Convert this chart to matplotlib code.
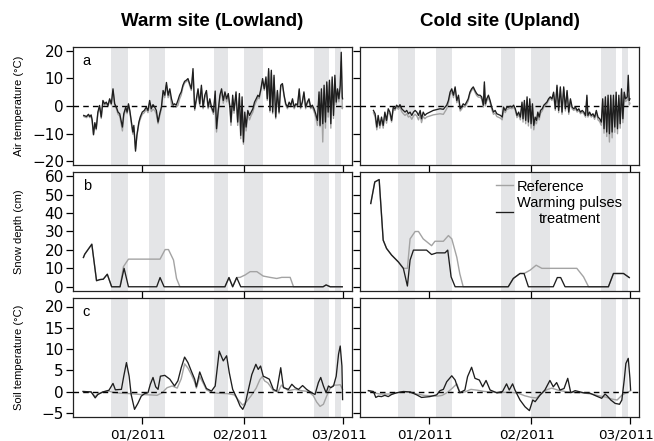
import matplotlib
matplotlib.use('Agg')
import matplotlib.pyplot as plt
from matplotlib.transforms import ScaledTranslation

plt.rcParams['font.family'] = ['Liberation Sans', 'DejaVu Sans']

# ---------------- DATA (day 0 = 1 Jan 2011) ----------------
warm_air_day = [
-17.8,-17.0,-16.4,-16.0,-15.6,-15.3,-14.9,-14.5,-14.1,-13.6,
-13.1,-12.6,-12.1,-11.6,-11.1,-10.6,-10.1,-9.6,-9.1,-8.6,
-8.1,-7.6,-7.1,-6.3,-5.9,-5.3,-4.9,-4.5,-4.1,-3.6,
-3.2,-2.9,-2.4,-2.0,-1.4,-1.0,-0.4,0.2,0.8,1.3,
1.8,2.3,2.8,3.3,3.8,4.3,4.8,5.3,5.8,6.3,
6.8,7.3,7.8,8.3,8.8,9.2,9.7,10.2,10.7,11.2,
11.7,12.2,12.7,13.2,13.7,14.2,14.7,15.2,15.7,16.2,
16.7,17.2,17.7,18.2,18.7,19.2,19.7,20.2,
20.8,21.3,21.7,22.2,22.7,23.2,23.7,24.2,24.7,25.2,
25.7,26.0,26.5,26.9,27.5,28.0,28.5,28.9,29.3,29.7,
30.1,30.5,31.0,31.5,32.0,32.5,33.0,33.5,34.0,34.4,
34.9,35.4,35.9,36.4,36.8,37.2,37.6,38.0,38.4,38.8,
39.3,39.8,40.3,40.8,41.3,41.8,42.3,42.8,43.3,43.8,
44.3,44.8,45.3,45.8,46.3,46.7,47.2,47.7,48.2,48.7,
49.2,49.7,50.2,50.7,51.2,51.7,52.2,52.5,52.9,53.3,
53.7,54.1,54.5,54.9,55.3,55.7,56.1,56.5,56.9,57.3,
57.7,58.1,58.5,58.8,59.1,59.2]
warm_air_pulse = [
-3.4,-3.8,-3.0,-3.8,-3.2,-5.0,-10.3,-6.0,-8.2,-2.2,
0.2,-4.0,2.0,0.8,1.4,0.2,2.6,0.8,6.2,0.8,
-0.4,-2.2,-2.8,-7.6,-2.8,-0.4,-2.2,0.8,-1.6,-5.8,
-9.4,-7.0,-16.3,-10.6,-5.8,-4.0,-2.2,-1.6,-0.4,-1.6,
2.0,-1.0,0.5,-0.4,-1.6,-5.8,-2.8,-0.4,5.6,3.9,
8.5,3.9,6.2,2.6,0.3,0.8,0.3,2.0,3.9,5.1,
7.5,8.9,9.3,9.9,8.1,6.2,13.5,-1.0,2.6,6.2,
0.8,7.5,-0.4,3.9,5.6,-0.4,2.6,-0.4,
-2.2,5.4,-8.2,-1.6,3.9,6.2,2.0,5.1,2.6,4.5,
-0.4,-5.8,3.9,-1.6,5.1,-5.8,4.5,-10.6,3.3,-13.0,
-2.2,-7.6,-1.6,-3.4,-2.2,-1.0,1.4,2.6,3.9,3.3,
6.2,9.9,6.2,10.5,2.6,13.5,-1.6,12.9,-2.2,11.1,
-4.0,5.6,-2.2,7.5,8.1,3.9,0.8,-0.4,1.4,0.3,
2.6,-0.4,0.8,0.3,6.2,-0.4,1.4,5.1,-0.4,1.4,
2.6,-0.4,0.3,-1.0,-2.8,-5.2,5.1,-7.0,6.2,-6.4,
7.5,-5.8,8.7,-2.2,9.3,-6.4,10.5,-3.4,11.1,1.4,
6.2,2.6,7.5,19.4,3.3,2.6]
warm_air_ref = [
-3.8,-4.2,-3.5,-4.2,-3.8,-5.6,-10.5,-6.5,-8.6,-2.8,
-0.3,-4.5,1.5,0.3,1.0,-0.2,2.2,0.4,5.5,0.3,
-1.0,-3.0,-3.6,-9.0,-3.6,-1.0,-2.8,0.2,-2.2,-6.6,
-10.2,-7.8,-15.5,-11.0,-6.4,-4.8,-3.0,-2.4,-1.2,-2.4,
0.8,-2.0,-1.2,-1.6,-3.0,-6.4,-3.6,-1.0,4.5,3.0,
7.5,3.0,5.0,0.5,-0.4,-0.2,-0.4,0.2,2.5,4.0,
6.8,8.3,8.8,9.3,7.5,5.6,12.0,-1.6,1.8,5.5,
0.0,6.5,-1.0,3.0,4.5,-1.0,1.8,-1.0,
-3.0,4.0,-9.4,-2.4,2.8,5.0,1.0,4.0,1.5,3.5,
-1.2,-7.0,2.5,-2.6,4.0,-7.0,3.0,-11.8,2.0,-13.8,
-3.4,-9.0,-2.8,-5.0,-3.4,-2.2,0.2,1.6,3.0,2.6,
5.6,9.0,5.6,9.6,2.0,12.5,-2.2,12.0,-2.8,10.2,
-4.6,5.0,-2.8,7.0,7.6,3.4,0.2,-1.0,0.8,-0.3,
2.0,-1.0,0.2,-0.3,5.5,-1.0,0.8,4.5,-1.0,0.8,
2.0,-1.0,-0.4,-2.0,-4.0,-7.0,4.0,-7.5,5.0,-13.0,
6.5,-8.0,7.5,-4.0,8.5,-8.0,9.5,-4.5,10.0,0.5,
5.5,1.5,6.5,16.0,-1.0,-0.5]

cold_air_day = [
-17.0,-16.5,-16.0,-15.6,-15.1,-14.6,-14.1,-13.6,-13.1,-12.6,
-12.1,-11.6,-11.1,-10.6,-10.1,-9.6,-9.1,-8.6,-8.1,-7.6,
-7.1,-6.6,-6.1,-5.6,-5.1,-4.6,-4.1,-3.6,-3.1,-2.7,
-2.2,-1.7,-1.2,-0.2,0.8,1.8,2.8,3.8,4.3,4.8,
5.3,5.8,6.3,6.8,7.3,7.8,8.3,8.8,9.2,9.7,
10.2,10.7,11.2,11.7,12.2,12.7,13.2,13.7,14.2,14.7,
15.2,15.7,16.0,16.3,16.7,17.2,17.7,18.2,18.7,19.2,
19.7,
20.8,21.3,21.7,22.2,22.7,23.2,23.7,24.2,24.7,25.2,
25.7,26.2,26.7,27.2,27.5,27.9,28.3,28.7,29.1,29.5,
29.9,30.3,30.7,31.1,31.5,31.9,32.3,32.7,33.2,33.7,
34.1,34.6,35.1,35.6,36.1,36.6,37.1,37.6,38.1,38.6,
39.1,39.6,40.1,40.6,41.1,41.6,42.1,42.6,43.1,43.6,
44.1,44.6,45.1,45.6,46.1,46.5,46.8,47.3,47.8,48.3,
48.8,49.3,49.8,50.3,50.8,51.2,51.6,52.0,52.4,52.8,
53.2,53.6,54.0,54.4,54.8,55.2,55.6,56.0,56.4,56.8,
57.2,57.6,58.0,58.5,58.8,59.1,59.3]
cold_air_pulse = [
-1.6,-2.8,-7.6,-3.4,-7.0,-4.0,-7.0,-2.2,-5.2,-1.0,
-2.2,-5.2,-0.4,-1.0,0.3,-0.4,0.5,-1.0,-1.6,-2.2,
-1.6,-2.8,-2.2,-3.4,-2.2,-1.6,-2.2,-3.4,-1.6,-4.6,
-2.2,-3.4,-2.8,-2.2,-1.6,-1.3,-1.0,-1.2,-0.4,0.3,
2.0,5.0,6.2,3.9,6.9,2.0,3.9,-1.0,-0.4,0.8,
0.3,1.4,2.6,5.0,6.2,6.9,5.6,4.5,3.9,3.9,
3.3,0.3,8.7,0.8,2.6,3.9,2.0,-0.4,-2.2,-1.6,
-2.8,
-3.4,-4.0,-0.4,-1.6,-0.4,-0.4,-0.1,-0.4,0.3,-1.0,
-3.4,-2.2,-4.0,1.4,-4.6,2.0,-5.2,3.3,-5.8,2.6,
-6.4,0.8,-7.0,-4.0,-5.2,-2.2,-4.0,-1.6,-1.0,0.3,
0.8,1.4,2.6,3.3,2.6,5.0,-1.0,7.5,-1.6,6.9,
-2.2,6.9,-1.0,5.6,-2.2,2.6,-0.4,-1.0,-0.4,-1.6,
-1.0,-2.2,-1.6,-2.2,-3.4,3.9,-3.4,-2.2,-3.4,-2.8,
-4.0,-1.6,-4.0,-4.6,-5.8,2.6,-8.2,3.3,-9.4,3.9,
-10.0,3.9,-9.4,3.9,-7.6,5.0,-8.2,3.9,-6.4,6.2,
-4.6,5.0,2.6,3.3,11.1,2.0,2.6]
cold_air_ref = [
-2.5,-3.8,-8.6,-4.4,-8.0,-5.0,-8.0,-3.2,-6.2,-2.0,
-3.0,-5.8,-1.0,-1.6,-0.3,-1.2,-0.4,-2.0,-2.8,-3.4,
-2.8,-4.0,-3.6,-4.8,-3.6,-3.0,-3.6,-5.0,-3.0,-6.0,
-3.6,-4.6,-4.0,-3.6,-3.2,-3.0,-2.8,-3.0,-2.0,-1.0,
1.0,4.0,5.4,3.0,6.2,1.2,3.0,-1.8,-1.2,0.0,
-0.4,0.6,1.8,4.4,5.6,6.4,5.0,3.8,3.2,3.2,
2.6,-0.4,7.6,0.0,1.8,3.0,1.2,-1.2,-3.0,-2.6,
-3.8,
-4.4,-5.0,-1.2,-2.4,-1.2,-1.0,-0.8,-1.0,-0.4,-1.6,
-4.2,-3.0,-5.0,0.6,-5.8,1.0,-6.4,2.2,-7.2,1.6,
-8.0,-0.4,-8.6,-5.4,-6.4,-3.4,-5.0,-2.6,-1.8,-0.4,
0.2,0.8,2.0,2.8,2.0,4.4,-1.6,6.8,-2.4,6.2,
-3.0,6.2,-1.8,5.0,-3.0,2.0,-1.0,-1.6,-1.0,-2.2,
-1.6,-2.8,-2.2,-2.8,-4.0,3.2,-4.0,-2.8,-4.0,-3.4,
-4.8,-2.4,-5.0,-5.6,-7.0,1.6,-9.8,2.2,-11.0,2.8,
-13.0,2.6,-11.5,2.6,-9.5,3.8,-10.0,2.8,-8.0,5.0,
-6.0,4.0,1.6,2.2,4.0,0.4,1.0]

# Snow depth (cm)
warm_snow_pulse_day = [-17.9,-17.5,-15.4,-14.0,-13.0,-12.0,-10.8,-9.5,-7.0,-5.8,-4.5,
                       3.9,4.9,6.1,24.2,25.4,26.5,27.7,28.9,53.4,54.3,55.5,59.1]
warm_snow_pulse = [15.9,17.7,23.1,3.3,3.9,4.1,6.8,0,0,10,0,
                   0,5,0,0,5,0,5,0,0,1,0,0]
warm_snow_ref_day = [-17.9,-17.5,-15.4,-14.0,-13.0,-12.0,-10.8,-9.5,-7.0,-6.0,-4.5,
                     4.9,6.4,7.4,8.9,9.8,10.8,24.2,25.4,26.5,27.7,28.7,30.2,31.7,
                     33.7,35.6,37.6,39.6,41.1,43.6,44.6,53.4,54.3,55.5,59.1]
warm_snow_ref = [15.9,17.7,23.1,3.3,3.9,4.1,6.8,0,0,10.9,15,
                 15,20.2,20.2,14.5,4.5,0,0,5,0,5,5.1,6.4,8.2,
                 8.2,5.8,5.1,4.5,5.1,5.1,0,0,1,0,0]
cold_snow_pulse_day = [-17.8,-16.6,-15.3,-14.1,-13.1,-11.6,-9.6,-8.1,-6.9,-6.1,-5.1,
                       -1.2,0.3,1.8,4.3,5.1,6.1,7.3,23.1,24.6,26.6,27.8,29.1,
                       36.5,37.7,38.7,40.0,52.9,54.4,57.4,59.1]
cold_snow_pulse = [45.2,56.9,58.2,25.3,20.8,17.2,13.5,10,0.4,14.5,19.9,
                   19.9,17.5,18.4,18.4,19.9,5.4,0,0,4.5,7.2,7.2,0,
                   0,5,5,0,0,7.2,7.2,5]
cold_snow_ref_day = [-17.8,-16.6,-15.3,-14.1,-13.1,-11.6,-9.6,-8.1,-6.9,-6.1,-4.6,
                     -3.6,-2.2,0.3,1.3,3.8,5.3,6.3,7.8,8.7,9.7,23.1,24.6,26.6,
                     27.8,29.6,31.4,33.1,43.5,45.5,47.0,52.9,54.4,57.4,59.1]
cold_snow_ref = [45.2,56.9,58.2,25.3,20.8,17.2,13.5,10,10,26,30,
                 30,26,22.3,24.7,24.7,27.8,26,16,7,0,0,4.5,7.2,
                 7.2,9,11.7,10,10,5.4,0,0,7.2,7.2,5]

# Soil temperature (°C)
warm_soil_pulse_day = [-18.0,-15.6,-14.4,-13.6,-12.1,-10.3,-9.1,-8.4,-6.6,-5.9,-5.1,-4.3,
    -3.7,-2.7,-1.7,-0.7,0.3,1.3,2.0,2.8,3.6,4.3,5.0,6.3,7.8,9.2,10.2,11.2,12.2,13.2,
    14.2,15.2,15.7,16.7,17.7,18.7,20.2,21.3,22.5,23.7,24.7,25.5,26.5,27.7,28.7,29.5,
    30.2,31.2,32.2,33.4,34.1,34.8,35.6,36.4,37.4,38.6,39.6,40.8,41.6,43.1,44.1,45.1,
    46.1,47.3,48.5,50.0,51.0,52.0,52.7,53.5,54.3,55.0,55.7,56.5,57.3,58.0,58.5,59.0,59.2]
warm_soil_pulse = [0,-0.1,-1.5,-0.7,-0.1,0.3,1.9,0.4,0.5,3.6,6.8,3.6,
    -0.7,-4.2,-2.8,-1.1,-0.5,-0.3,1.7,3.3,1.1,0.5,3.6,3.8,2.9,1.3,2.5,5.6,8.1,6.8,
    4.8,2.9,1.1,4.6,2.5,0.7,0.1,1.3,9.5,7.2,8.4,4.4,0.5,-1.5,-3.4,-4.2,
    -3.0,0.5,4.0,6.4,5.2,6.0,3.6,3.3,2.9,0.5,0.1,5.6,0.9,0.5,1.7,0.9,
    0.5,1.4,0.5,-0.3,-0.7,2.1,3.3,1.3,-0.3,1.3,0.9,1.3,3.6,8.8,10.7,6.0,-1.9]
warm_soil_ref_day = [-18.0,-15.6,-14.4,-13.6,-12.1,-10.3,-9.1,-7.0,-4.0,-1.0,2.0,4.0,
    5.5,7.0,8.5,10.0,11.2,12.2,13.2,14.2,15.2,15.7,16.7,17.7,18.7,20.2,22.0,25.0,
    27.0,28.7,29.5,30.5,32.0,33.5,34.6,35.3,36.0,37.0,38.6,40.0,41.0,43.0,45.0,47.0,
    49.0,50.5,51.5,52.5,53.5,54.5,55.5,56.5,57.5,58.5,59.2]
warm_soil_ref = [0,-0.1,-1.2,-0.6,-0.1,0.1,-0.2,-0.4,-0.5,-0.7,-0.8,-0.9,
    -0.3,0.9,1.3,0.8,3.0,6.5,5.5,4.0,2.2,0.8,3.5,2.0,0.4,-0.2,-0.4,-0.5,
    -0.8,-2.5,-3.2,-2.5,-1.0,0.8,2.8,3.5,2.5,2.0,0.2,-0.1,1.5,0.2,0.5,0.2,
    0.0,-1.0,-2.5,-3.5,-3.0,-1.0,0.8,1.5,1.5,1.6,0.5]
cold_soil_pulse_day = [-18.5,-17.0,-16.3,-15.6,-14.6,-13.6,-12.6,-11.6,-10.1,-8.1,-6.1,
    -4.1,-2.7,-0.2,1.8,2.8,3.8,4.8,6.3,7.3,7.8,8.7,10.2,11.0,12.2,13.2,14.5,15.5,16.5,
    17.7,19.7,21.4,22.6,23.4,24.4,25.1,26.6,28.1,29.4,30.4,31.1,32.6,34.0,35.5,36.5,
    37.5,38.5,39.7,40.8,41.7,43.0,45.5,47.4,49.4,50.9,51.9,52.6,53.6,54.9,56.2,56.9,
    57.6,58.1,58.8,59.3,59.5]
cold_soil_pulse = [0.2,0.0,-1.4,-1.1,-1.2,-0.9,-1.2,-0.7,-0.3,0.0,-0.1,
    -0.8,-1.4,-1.2,-0.8,0.2,0.5,2.3,3.7,2.7,1.5,-0.3,0.35,3.5,5.7,3.1,2.7,1.1,2.6,
    0.35,-0.3,0.0,1.8,0.35,1.8,0.35,-2.0,-3.6,-4.5,-2.0,-2.4,-0.8,0.35,2.6,1.1,
    2.1,0.35,0.7,3.1,-0.3,0.2,-0.3,-0.4,-1.1,-1.6,-0.6,-1.1,-2.0,-2.8,-3.0,-2.0,
    2.7,6.6,7.8,3.1,0.35]
cold_soil_ref_day = [-18.5,-17.0,-15.0,-12.0,-10.0,-8.0,-6.0,-4.0,-2.0,0.0,2.0,3.5,
    5.0,6.5,7.8,8.7,10.2,12.0,14.0,16.0,18.0,20.0,22.0,24.0,26.0,28.0,30.0,31.5,
    33.0,34.5,36.0,38.0,40.0,42.0,45.0,48.0,50.0,52.0,54.0,55.5,57.0,58.5,59.5]
cold_soil_ref = [0.2,-0.3,-0.6,-0.6,-0.3,-0.1,-0.2,-0.6,-0.9,-1.0,-1.1,-0.9,
    -0.2,0.8,1.8,-0.2,-0.1,0.5,0.3,0.0,-0.1,-0.3,-0.2,-0.2,-0.4,-1.0,-1.4,-1.5,
    -0.5,0.4,0.8,0.3,0.0,-0.2,-0.3,-0.6,-1.0,-1.3,-1.8,-2.0,-0.8,-0.2,0.2]

# Warming pulse periods (shaded), start/end day
pulse_start = [-9.7, 1.5, 21.0, 30.0, 50.7, 57.0]
pulse_end = [-4.6, 6.5, 25.1, 35.5, 55.1, 58.8]

month_ticks = [-0.5, 29.9, 59.2]
month_labels = ['01/2011', '02/2011', '03/2011']

site_titles = ['Warm site (Lowland)', 'Cold site (Upland)']
row_labels = ['Air temperature (°C)', 'Snow depth (cm)', 'Soil temperature (°C)']
panel_letters = ['a', 'b', 'c']
row_yticks = [[-20, -10, 0, 10, 20], [0, 10, 20, 30, 40, 50, 60], [-5, 0, 5, 10, 15, 20]]
row_ylims = [(-21.3, 21.3), (-2.3, 62.3), (-6.0, 22.0)]

data = [
    [(warm_air_day, warm_air_ref, warm_air_day, warm_air_pulse),
     (cold_air_day, cold_air_ref, cold_air_day, cold_air_pulse)],
    [(warm_snow_ref_day, warm_snow_ref, warm_snow_pulse_day, warm_snow_pulse),
     (cold_snow_ref_day, cold_snow_ref, cold_snow_pulse_day, cold_snow_pulse)],
    [(warm_soil_ref_day, warm_soil_ref, warm_soil_pulse_day, warm_soil_pulse),
     (cold_soil_ref_day, cold_soil_ref, cold_soil_pulse_day, cold_soil_pulse)],
]

# ---------------- FIGURE ----------------
W, H = 654, 441
fig = plt.figure(figsize=(W / 100, H / 100), dpi=100)
col_x = [73, 360]
col_w = 279
row_y = [(47, 165), (172, 291), (298, 417)]

GRAY_LINE = '#a3a3a3'
BLACK_LINE = '#1e1e1e'
SHADE = '#e4e5e7'
TICK_FONT = ['DejaVu Sans']
label_shift = ScaledTranslation(-4 / 100, 0, fig.dpi_scale_trans)

for r in range(3):
    for c in range(2):
        top, bot = row_y[r]
        ax = fig.add_axes([col_x[c] / W, 1 - bot / H, col_w / W, (bot - top) / H])
        for s, e in zip(pulse_start, pulse_end):
            ax.axvspan(s, e, color=SHADE, lw=0, zorder=0)
        if r != 1:
            ax.axhline(0, color='black', lw=1.0, ls=(0, (4, 3)), zorder=3)
        rd, rv, pd_, pv = data[r][c]
        ax.plot(rd, rv, color=GRAY_LINE, lw=1.0, zorder=2, label='Reference')
        ax.plot(pd_, pv, color=BLACK_LINE, lw=0.95, zorder=4,
                label='Warming pulses\ntreatment')
        ax.set_xlim(-21, 62)
        ax.set_ylim(*row_ylims[r])
        ax.set_yticks(row_yticks[r])
        ax.set_xticks(month_ticks)
        ax.tick_params(direction='out', length=5, width=0.9, colors='black')
        ax.tick_params(axis='y', pad=1.5)
        ax.tick_params(axis='x', pad=3)
        if r == 2:
            ax.set_xticklabels(month_labels, family=TICK_FONT, fontsize=9.7)
            for lab in ax.get_xticklabels():
                lab.set_transform(lab.get_transform() + label_shift)
        else:
            ax.set_xticklabels([])
        if c == 1:
            ax.set_yticklabels([])
        else:
            ax.set_yticklabels(['\u2212' + str(-v) if v < 0 else str(v) for v in row_yticks[r]],
                               family=TICK_FONT, fontsize=11)
        for sp in ax.spines.values():
            sp.set_linewidth(0.9)
            sp.set_color('#222222')
        if c == 0:
            ax.text(0.035, 0.88, panel_letters[r], transform=ax.transAxes,
                    fontsize=10.5, va='center', ha='left')
        if r == 1 and c == 1:
            leg = ax.legend(loc='upper left', bbox_to_anchor=(0.455, 1.01), frameon=False,
                            fontsize=10.5, handlelength=1.2, handletextpad=0.25,
                            labelspacing=0.2, borderaxespad=0.2)
            for t in leg.get_texts():
                t.set_multialignment('center')
                t.set_linespacing(1.15)
    fig.text(19 / W, 1 - (sum(row_y[r]) / 2) / H, row_labels[r], rotation=90,
             ha='center', va='center', fontsize=8)

for c in range(2):
    fig.text((col_x[c] + col_w / 2) / W, 1 - 22 / H, site_titles[c],
             ha='center', va='center', fontsize=13.5, fontweight='bold')

fig.savefig('out.png', dpi=100)
